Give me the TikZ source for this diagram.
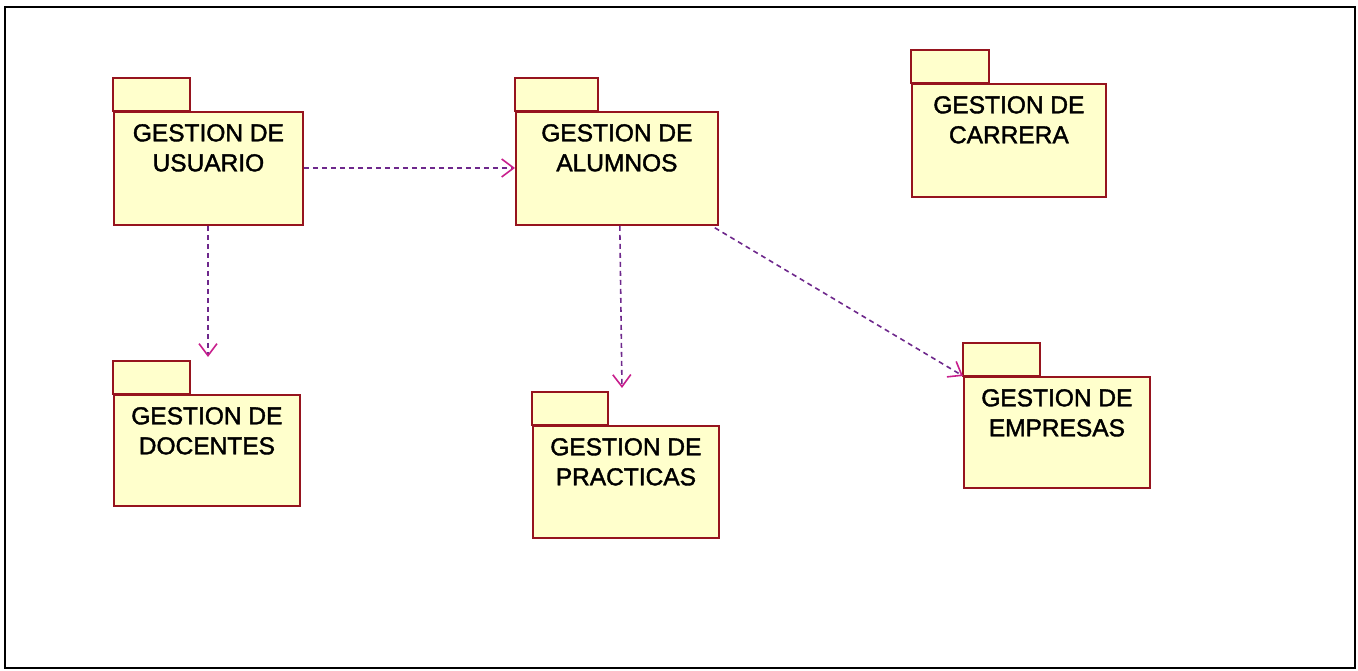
\documentclass[tikz,border=0pt]{standalone}
\usepackage{fontspec}
\setmainfont{Liberation Sans}[FakeBold=1.6]
\usetikzlibrary{arrows.meta}
\definecolor{pkgborder}{RGB}{150,20,30}
\definecolor{pkgfill}{RGB}{255,255,204}
\definecolor{deppurple}{RGB}{110,40,140}
\definecolor{headmag}{RGB}{200,30,140}
\tikzset{
  pkgbody/.style={draw=pkgborder, fill=pkgfill, line width=1.8pt, rectangle, inner sep=0pt, anchor=north west},
  pkgtab/.style={draw=pkgborder, fill=pkgfill, line width=1.8pt},
  pkglabel/.style={anchor=north, inner sep=0pt, align=center, font=\fontsize{24.5}{30}\selectfont},
  dep/.style={draw=deppurple, line width=1.6pt, dash pattern=on 5pt off 4pt,
    -{Straight Barb[length=12pt,width=18pt,line width=1.6pt,color=headmag]}}
}
\newcommand{\umlpkg}[7]{%
  % #1 name, #2 x, #3 y (body top), #4 width, #5 height, #6 tab width, #7 text
  \node[pkgbody, minimum width=#4, minimum height=#5] (#1) at (#2,#3) {};
  \draw[pkgtab] (#1.north west) rectangle ++(#6,33);
  \node[pkglabel] (#1-label) at ([yshift=-13pt]#1.north) {#7};
}
\begin{document}
\begin{tikzpicture}[x=1pt,y=1pt]
\useasboundingbox (0,0) rectangle (1358,671);
\draw[line width=1.5pt, black] (5,3) rectangle (1355,664);
% packages (y measured from bottom: 671 - pixel y)
\umlpkg{usu}{113}{560}{189}{113}{77}{GESTION DE\\USUARIO}
\umlpkg{alu}{515}{560}{202}{113}{83}{GESTION DE\\ALUMNOS}
\umlpkg{car}{911}{588}{194}{113}{78}{GESTION DE\\CARRERA}
\umlpkg{doc}{113}{277}{186}{111}{77}{GESTION DE\\DOCENTES}
\umlpkg{pra}{532}{246}{186}{112}{76}{GESTION DE\\PRACTICAS}
\umlpkg{emp}{963}{295}{186}{111}{77}{GESTION DE\\EMPRESAS}
% dependencies
\coordinate (docTop) at (208,314);
\coordinate (praTop) at (622,283);
\draw[dep] ([yshift=-57pt]usu.north east) -- ([yshift=-57pt]alu.north west);
\draw[dep] (usu.south -| docTop) -- (docTop);
\draw[dep] ([xshift=-99pt]alu.south east) -- (praTop);
\draw[dep] ([xshift=-4pt,yshift=-2pt]alu.south east) -- (emp.north west);
\end{tikzpicture}
\end{document}
